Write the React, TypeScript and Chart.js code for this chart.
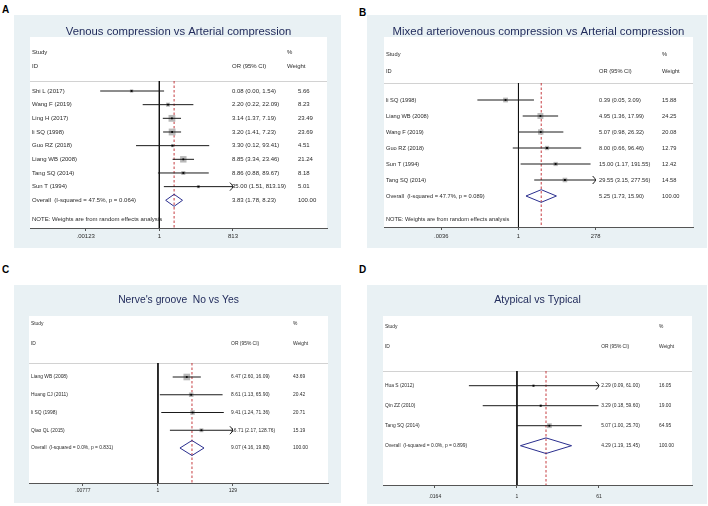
import React, { useEffect, useRef } from "react";
import { Chart, registerables } from "chart.js";
Chart.register(...registerables);

// ---------- Panel A ----------
const A_TITLE = "Venous compression vs Arterial compression";
const A_STUDIES = ["Shi L (2017)", "Wang F (2019)", "Ling H (2017)", "li SQ (1998)", "Guo RZ (2018)", "Liang WB (2008)", "Tang SQ (2014)", "Sun T (1994)"];
const A_OR = [0.08, 2.2, 3.14, 3.2, 3.3, 8.85, 8.86, 35.0];
const A_LO = [0.0046, 0.22, 1.37, 1.41, 0.12, 3.34, 0.88, 1.51];
const A_HI = [1.54, 22.09, 7.19, 7.23, 93.41, 23.46, 89.67, 813.19];
const A_WEIGHT = [5.66, 8.23, 23.49, 23.69, 4.51, 21.24, 8.18, 5.01];
const A_OVERALL = [3.83, 1.78, 8.23];
const A_OVERALL_LABEL = "Overall  (I-squared = 47.5%, p = 0.064)";
const A_NOTE = "NOTE: Weights are from random effects analysis";
const A_TICK_LABELS = [".00123", "1", "813"];

// ---------- Panel B ----------
const B_TITLE = "Mixed arteriovenous compression vs Arterial compression";
const B_STUDIES = ["li SQ (1998)", "Liang WB (2008)", "Wang F (2019)", "Guo RZ (2018)", "Sun T (1994)", "Tang SQ (2014)"];
const B_OR = [0.39, 4.95, 5.07, 8.0, 15.0, 29.55];
const B_LO = [0.05, 1.36, 0.98, 0.66, 1.17, 3.15];
const B_HI = [3.09, 17.99, 26.32, 96.46, 191.55, 277.56];
const B_WEIGHT = [15.88, 24.25, 20.08, 12.79, 12.42, 14.58];
const B_OVERALL = [5.25, 1.73, 15.9];
const B_OVERALL_LABEL = "Overall  (I-squared = 47.7%, p = 0.089)";
const B_NOTE = "NOTE: Weights are from random effects analysis";
const B_TICK_LABELS = [".0036", "1", "278"];

// ---------- Panel C ----------
const C_TITLE = "Nerve's groove  No vs Yes";
const C_STUDIES = ["Liang WB (2008)", "Huang CJ (2011)", "li SQ (1998)", "Qiao QL (2015)"];
const C_OR = [6.47, 8.61, 9.41, 16.71];
const C_LO = [2.6, 1.13, 1.24, 2.17];
const C_HI = [16.09, 65.9, 71.36, 128.76];
const C_WEIGHT = [43.69, 20.42, 20.71, 15.19];
const C_OVERALL = [9.07, 4.16, 19.8];
const C_OVERALL_LABEL = "Overall  (I-squared = 0.0%, p = 0.831)";
const C_NOTE = "";
const C_TICK_LABELS = [".00777", "1", "129"];

// ---------- Panel D ----------
const D_TITLE = "Atypical vs Typical";
const D_STUDIES = ["Hua S (2012)", "Qin ZZ (2010)", "Tang SQ (2014)"];
const D_OR = [2.29, 3.29, 5.07];
const D_LO = [0.09, 0.18, 1.0];
const D_HI = [61.0, 59.6, 25.7];
const D_WEIGHT = [16.05, 19.0, 64.95];
const D_OVERALL = [4.29, 1.19, 15.45];
const D_OVERALL_LABEL = "Overall  (I-squared = 0.0%, p = 0.899)";
const D_NOTE = "";
const D_TICK_LABELS = [".0164", "1", "61"];

const FONT = '"Liberation Sans", Arial, Helvetica, sans-serif';
const BLUE_BG = "#e9f1f4";
const TITLE_COLOR = "#222c5c";
const TEXT_COLOR = "#2a2a2a";

type Layout = {
  box: number[]; white: number[]; titleY: number; titleSize: number;
  studyY: number; idY: number; sep: number; firstRow: number; lastRow: number; noteY: number;
  gL: number; gR: number; orX: number; wX: number; wNumX: number; font: number; tickFont: number;
  tickPad: number; boxK: number; diamondH: number;
  letter: string; letterX: number; letterY: number;
};

type Panel = {
  title: string; studies: string[]; or: number[]; lo: number[]; hi: number[]; weight: number[];
  overall: number[]; overallLabel: string; note: string; tickLabels: string[]; L: Layout;
};

const PANELS: Panel[] = [
  {
    title: A_TITLE, studies: A_STUDIES, or: A_OR, lo: A_LO, hi: A_HI, weight: A_WEIGHT,
    overall: A_OVERALL, overallLabel: A_OVERALL_LABEL, note: A_NOTE, tickLabels: A_TICK_LABELS,
    L: { box: [14, 15, 341, 248], white: [30, 37, 327, 228], titleY: 32, titleSize: 11.3,
      studyY: 52, idY: 66, sep: 81, firstRow: 91, lastRow: 200.3, noteY: 219,
      gL: 0.1875, gR: 0.6835, orX: 0.68, wX: 0.865, wNumX: 0.902, font: 6.0, tickFont: 6,
      tickPad: 2, boxK: 1.4, diamondH: 6,
      letter: "A", letterX: 2, letterY: 10 },
  },
  {
    title: B_TITLE, studies: B_STUDIES, or: B_OR, lo: B_LO, hi: B_HI, weight: B_WEIGHT,
    overall: B_OVERALL, overallLabel: B_OVERALL_LABEL, note: B_NOTE, tickLabels: B_TICK_LABELS,
    L: { box: [367, 15, 707, 248], white: [384, 37, 693, 227], titleY: 32, titleSize: 11.4,
      studyY: 54, idY: 71, sep: 83, firstRow: 100, lastRow: 196, noteY: 219,
      gL: 0.1854, gR: 0.685, orX: 0.696, wX: 0.9, wNumX: 0.9, font: 5.7, tickFont: 5.8,
      tickPad: 3, boxK: 1.2, diamondH: 6.3,
      letter: "B", letterX: 359, letterY: 13 },
  },
  {
    title: C_TITLE, studies: C_STUDIES, or: C_OR, lo: C_LO, hi: C_HI, weight: C_WEIGHT,
    overall: C_OVERALL, overallLabel: C_OVERALL_LABEL, note: C_NOTE, tickLabels: C_TICK_LABELS,
    L: { box: [14, 285, 341, 503], white: [29, 316, 328, 483], titleY: 300, titleSize: 10.3,
      studyY: 324, idY: 344, sep: 363, firstRow: 377, lastRow: 448, noteY: 466,
      gL: 0.1806, gR: 0.682, orX: 0.676, wX: 0.883, wNumX: 0.883, font: 4.9, tickFont: 5,
      tickPad: 2, boxK: 1.0, diamondH: 7.5,
      letter: "C", letterX: 2, letterY: 270 },
  },
  {
    title: D_TITLE, studies: D_STUDIES, or: D_OR, lo: D_LO, hi: D_HI, weight: D_WEIGHT,
    overall: D_OVERALL, overallLabel: D_OVERALL_LABEL, note: D_NOTE, tickLabels: D_TICK_LABELS,
    L: { box: [367, 285, 707, 504], white: [383, 316, 692, 485], titleY: 300, titleSize: 10.6,
      studyY: 327, idY: 347, sep: 371, firstRow: 385.7, lastRow: 445.7, noteY: 466,
      gL: 0.168, gR: 0.699, orX: 0.706, wX: 0.893, wNumX: 0.893, font: 4.9, tickFont: 5,
      tickPad: 6, boxK: 0.6, diamondH: 7.8,
      letter: "D", letterX: 359, letterY: 270 },
  },
];

function fmt(v: number) {
  return v.toFixed(2);
}

function makeChart(canvas: HTMLCanvasElement, p: Panel) {
  const L = p.L;
  const [bx0, by0, bx1, by1] = L.box;
  const [wx0, wy0, wx1, wy1] = L.white;
  const W = bx1 - bx0;
  const H = by1 - by0;
  const n = p.studies.length;
  const s = (L.lastRow - L.firstRow) / n;
  const yMin = 1 - (L.firstRow - L.sep) / s;
  const yMax = n + 1 + (wy1 - L.lastRow) / s;
  const maxHi = Math.max(...p.hi);
  const lnHi = Math.log(maxHi);
  const lnLo = -lnHi;
  const span = (lnHi - lnLo) / (L.gR - L.gL);
  const xMin = lnLo - L.gL * span;
  const xMax = xMin + span;
  const tickVals = [lnLo, 0, lnHi];
  const dh = L.diamondH / s;
  const [oEst, oLo, oHi] = p.overall;
  const overallRow = n + 1;

  const datasets: any[] = [];
  datasets.push({
    data: p.or.map((v, i) => ({ x: Math.log(v), y: i + 1 })),
    pointStyle: "rect", pointRadius: 1.25, backgroundColor: "#000", borderWidth: 0, showLine: false, order: 0,
  });
  datasets.push({
    data: p.or.map((v, i) => ({ x: Math.log(v), y: i + 1 })),
    pointStyle: "rect",
    pointRadius: p.weight.map((w) => (L.boxK * Math.sqrt(w)) / Math.SQRT2),
    backgroundColor: "#b9b9b9", borderWidth: 0, showLine: false, order: 2,
  });
  p.lo.forEach((lo, i) => {
    datasets.push({
      data: [
        { x: Math.log(lo), y: i + 1 },
        { x: Math.log(Math.min(p.hi[i], maxHi)), y: i + 1 },
      ],
      showLine: true, borderColor: "#1a1a1a", borderWidth: 1, pointRadius: 0, order: 1,
    });
  });
  datasets.push({
    data: [
      { x: Math.log(oLo), y: overallRow },
      { x: Math.log(oEst), y: overallRow - dh },
      { x: Math.log(oHi), y: overallRow },
      { x: Math.log(oEst), y: overallRow + dh },
      { x: Math.log(oLo), y: overallRow },
    ],
    showLine: true, borderColor: "#2b2f8f", borderWidth: 1, pointRadius: 0, order: 1,
  });
  datasets.push({
    data: [{ x: 0, y: yMin }, { x: 0, y: yMax }],
    showLine: true, borderColor: "#111", borderWidth: 1, pointRadius: 0, order: 3,
  });
  datasets.push({
    data: [{ x: Math.log(oEst), y: yMin }, { x: Math.log(oEst), y: yMax }],
    showLine: true, borderColor: "#c0262b", borderWidth: 0.9, borderDash: [2.5, 2], pointRadius: 0, order: 3,
  });

  const plugin = {
    id: "forestDeco",
    beforeDraw(chart: any) {
      const ctx = chart.ctx;
      ctx.save();
      ctx.fillStyle = BLUE_BG;
      ctx.fillRect(0, 0, W, H);
      ctx.fillStyle = "#ffffff";
      ctx.fillRect(wx0 - bx0, wy0 - by0, wx1 - wx0, wy1 - wy0);
      ctx.strokeStyle = "#d2d2d2";
      ctx.lineWidth = 1;
      ctx.beginPath();
      ctx.moveTo(wx0 - bx0, L.sep - by0 + 0.5);
      ctx.lineTo(wx1 - bx0, L.sep - by0 + 0.5);
      ctx.stroke();
      ctx.restore();
    },
    afterDraw(chart: any) {
      const ctx = chart.ctx;
      const ca = chart.chartArea;
      const ys = chart.scales.y;
      const xs = chart.scales.x;
      const cw = ca.right - ca.left;
      const tx = ca.left + 2;
      const ox = ca.left + L.orX * cw;
      const wx = ca.left + L.wX * cw;
      const wn = ca.left + L.wNumX * cw;
      ctx.save();
      ctx.fillStyle = TITLE_COLOR;
      ctx.font = `${L.titleSize}px ${FONT}`;
      ctx.textAlign = "center";
      ctx.textBaseline = "middle";
      ctx.fillText(p.title, (wx0 + wx1) / 2 - bx0, L.titleY - by0);
      ctx.fillStyle = TEXT_COLOR;
      ctx.font = `${L.font}px ${FONT}`;
      ctx.textAlign = "left";
      ctx.fillText("Study", tx, L.studyY - by0);
      ctx.fillText("ID", tx, L.idY - by0);
      ctx.fillText("%", wx, L.studyY - by0);
      ctx.fillText("OR (95% CI)", ox, L.idY - by0);
      ctx.fillText("Weight", wx, L.idY - by0);
      p.studies.forEach((name, i) => {
        const y = ys.getPixelForValue(i + 1);
        ctx.fillText(name, tx, y);
        ctx.fillText(`${fmt(p.or[i])} (${fmt(p.lo[i])}, ${fmt(p.hi[i])})`, ox, y);
        ctx.fillText(fmt(p.weight[i]), wn, y);
      });
      const yo = ys.getPixelForValue(overallRow);
      ctx.fillText(p.overallLabel, tx, yo);
      ctx.fillText(`${fmt(oEst)} (${fmt(oLo)}, ${fmt(oHi)})`, ox, yo);
      ctx.fillText("100.00", wn, yo);
      if (p.note) ctx.fillText(p.note, tx, L.noteY - by0);
      ctx.strokeStyle = "#1a1a1a";
      ctx.lineWidth = 1;
      p.hi.forEach((h, i) => {
        if (h >= maxHi) {
          const x = xs.getPixelForValue(lnHi);
          const y = ys.getPixelForValue(i + 1);
          ctx.beginPath();
          ctx.moveTo(x - 3, y - 4);
          ctx.quadraticCurveTo(x - 0.5, y - 1.5, x, y);
          ctx.quadraticCurveTo(x - 0.5, y + 1.5, x - 3, y + 4);
          ctx.stroke();
        }
      });
      ctx.restore();
    },
  };

  return new Chart(canvas, {
    type: "scatter",
    data: { datasets },
    options: {
      animation: false,
      responsive: false,
      devicePixelRatio: 1,
      layout: {
        padding: { left: wx0 - bx0, right: bx1 - wx1, top: L.sep - by0, bottom: 0 },
      },
      plugins: { legend: { display: false }, tooltip: { enabled: false }, title: { display: false } },
      scales: {
        x: {
          type: "linear",
          min: xMin,
          max: xMax,
          afterBuildTicks: (scale: any) => {
            scale.ticks = tickVals.map((v) => ({ value: v }));
          },
          afterFit: (scale: any) => {
            scale.height = by1 - wy1;
          },
          ticks: {
            autoSkip: false,
            maxRotation: 0,
            padding: L.tickPad,
            color: TEXT_COLOR,
            font: { size: L.tickFont, family: FONT },
            callback: (_v: any, i: number) => p.tickLabels[i],
          },
          grid: { display: true, drawOnChartArea: false, drawTicks: true, tickLength: 3, color: "#555" },
          border: { display: true, color: "#555", width: 1 },
        },
        y: {
          type: "linear",
          display: false,
          reverse: true,
          min: yMin,
          max: yMax,
        },
      },
    } as any,
    plugins: [plugin],
  });
}

function ForestPanel({ panel }: { panel: Panel }) {
  const ref = useRef<HTMLCanvasElement | null>(null);
  const [bx0, by0, bx1, by1] = panel.L.box;
  useEffect(() => {
    if (!ref.current) return;
    const chart = makeChart(ref.current, panel);
    return () => chart.destroy();
  }, [panel]);
  return (
    <>
      <canvas
        ref={ref}
        width={bx1 - bx0}
        height={by1 - by0}
        style={{ position: "absolute", left: bx0, top: by0, width: bx1 - bx0, height: by1 - by0 }}
      />
      <div
        style={{
          position: "absolute",
          left: panel.L.letterX,
          top: panel.L.letterY - 5,
          font: `bold 10px ${FONT}`,
          lineHeight: "10px",
          color: "#000",
        }}
      >
        {panel.L.letter}
      </div>
    </>
  );
}

export default function App() {
  return (
    <div style={{ position: "absolute", left: 0, top: 0, width: 708, height: 506, background: "#fff", overflow: "hidden" }}>
      {PANELS.map((p, i) => (
        <ForestPanel key={i} panel={p} />
      ))}
    </div>
  );
}
